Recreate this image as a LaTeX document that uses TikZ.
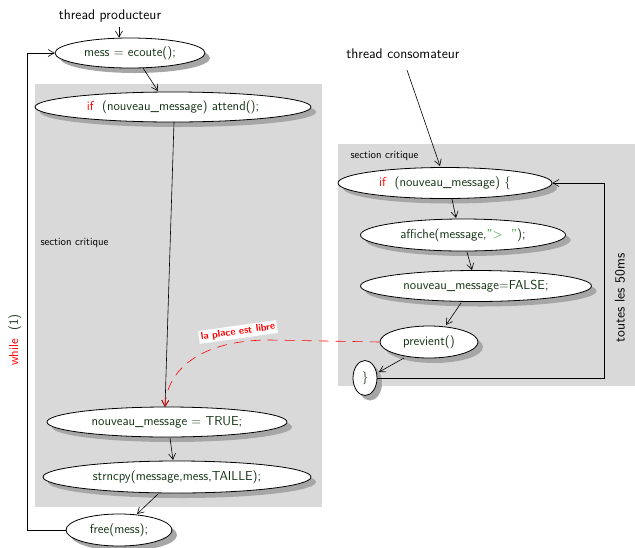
\documentclass[tikz,border=0pt]{standalone}
\usetikzlibrary{shadows,arrows.meta,shapes.geometric}
\definecolor{code}{rgb}{0.08,0.2,0.08}
\definecolor{sect}{HTML}{D9D9D9}
\definecolor{strg}{rgb}{0.1,0.6,0.1}
\tikzset{
  instr/.style={ellipse, draw=black, thick, fill=white, inner sep=0pt, text=code, font=\sffamily\fontsize{13}{15}\selectfont,
    drop shadow={shadow xshift=5pt, shadow yshift=-5pt, fill=black!35, opacity=1}},
  flow/.style={-{Straight Barb[length=6pt,width=7pt]}, semithick},
  zone/.style={fill=sect, draw=none},
  small/.style={font=\sffamily\fontsize{11}{13}\selectfont},
  lab/.style={font=\sffamily\fontsize{14}{16}\selectfont}
}
\begin{document}
\begin{tikzpicture}[x=1pt,y=-1pt]
\useasboundingbox (0,0) rectangle (635,547);
% zones
\fill[zone] (35,84) rectangle (322,507);
\fill[zone] (338,144) rectangle (635,386);
\node[small, anchor=west] (sc1) at (37,243) {section critique};
\node[small, anchor=west] (sc2) at (347,156) {section critique};
% producer
\node[lab] (tp) at (110,16) {thread producteur};
\node[instr, minimum width=150, minimum height=30] (ecoute) at (130,53) {mess = ecoute();};
\node[instr, minimum width=276, minimum height=30] (attend) at (173,107) {\textcolor{red}{if}\ \ (nouveau\_message) attend();};
\node[instr, minimum width=240, minimum height=30] (ntrue) at (167,422) {nouveau\_message = TRUE;};
\node[instr, minimum width=268, minimum height=32] (strn) at (177,477) {strncpy(message,mess,TAILLE);};
\node[instr, minimum width=106, minimum height=32] (free) at (119,530) {free(mess);};
\coordinate (tpa) at (119,27);
\draw[flow] (tpa) -- (ecoute.north -| tpa);
\draw[flow] (143,68) -- (158,91);
\draw[flow] (174,122) -- (165,407);
\draw[flow] (170,438) -- (173,460);
\draw[flow] (158,494) -- (137,514);
\coordinate (lp1) at (27,530);
\coordinate (lp2) at (27,53);
\draw[flow] (free.west) -- (lp1) -- (lp2) -- (ecoute.west);
\node[rotate=90, font=\sffamily\fontsize{13}{15}\selectfont, text=code] (while) at (15,340) {\textcolor{red}{while}\ \ (1)};
% consumer
\node[lab] (tc) at (403,54) {thread consomateur};
\node[instr, minimum width=214, minimum height=31] (cif) at (445,183) {\textcolor{red}{if}\ \ (nouveau\_message) \{};
\node[instr, minimum width=205, minimum height=32] (aff) at (463,235) {affiche(message,\textcolor{strg}{"> \ "});};
\node[instr, minimum width=231, minimum height=31] (nfalse) at (476,286) {nouveau\_message=FALSE;};
\node[instr, minimum width=98, minimum height=32] (prev) at (429,342) {previent()};
\node[instr, minimum width=24, minimum height=35] (close) at (365,378) {\}};
\draw[flow] (407,70) -- (440,166);
\draw[flow] (452,199) -- (456,218);
\draw[flow] (467,252) -- (472,270);
\draw[flow] (461,303) -- (446,325);
\draw[flow] (404,358) -- (379,372);
\coordinate (lq1) at (604,378);
\coordinate (lq2) at (604,183);
\draw[flow] (close.east) -- (lq1) -- (lq2) -- (cif.east);
\node[rotate=90, lab] (every) at (620,298) {toutes les 50ms};
% signal
\coordinate (sg) at (270,340);
\draw[red, semithick, dash pattern=on 10pt off 7pt, -{Straight Barb[length=6pt,width=7pt]}] (prev.west) -- (sg) .. controls (200,340) and (167,370) .. (ntrue.north -| 165,0);
\node[fill=white, text=red, font=\sffamily\fontsize{10}{12}\bfseries\selectfont, rotate=8, inner sep=2pt] (lbl) at (238,332) {la place est libre};
\end{tikzpicture}
\end{document}
